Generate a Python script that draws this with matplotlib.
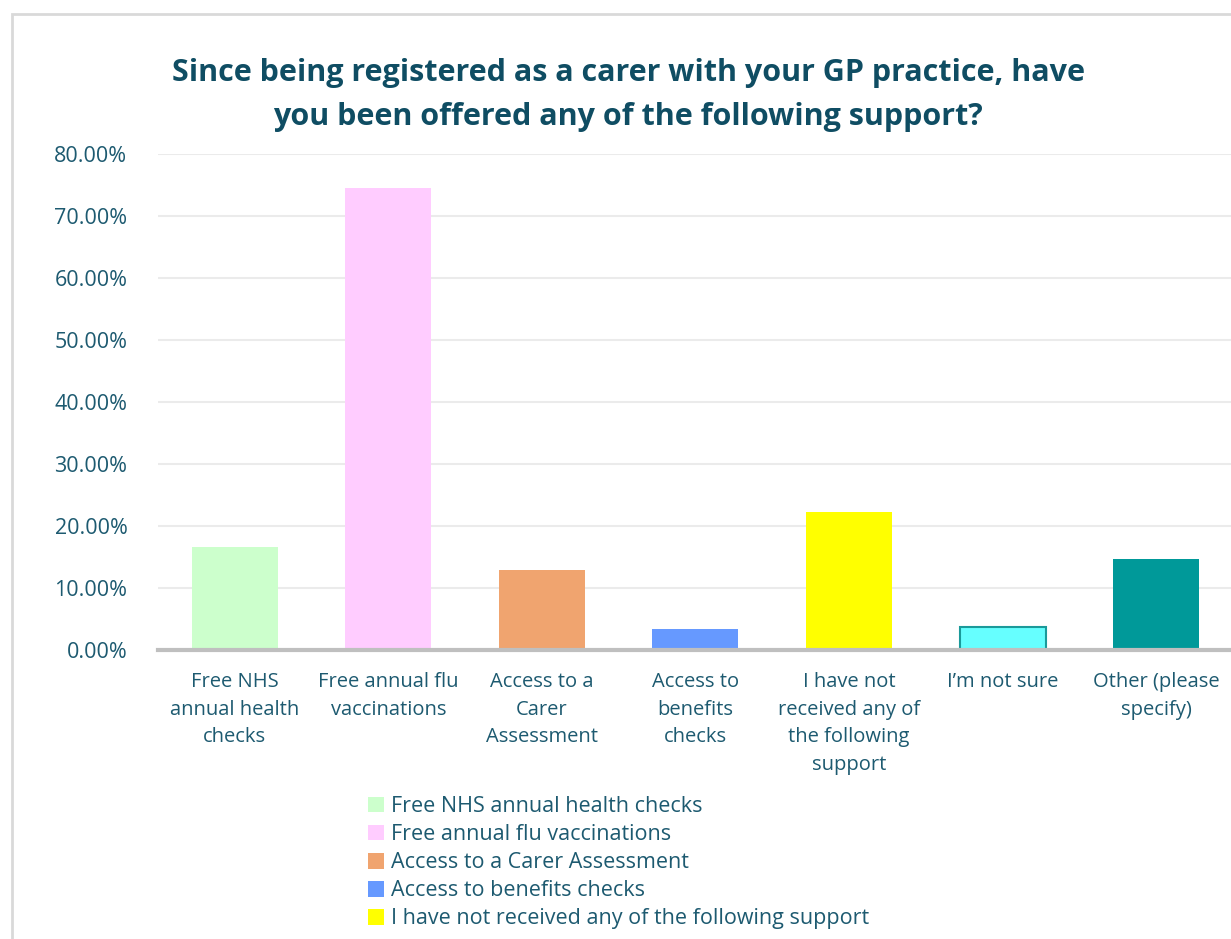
import numpy as np
import matplotlib.pyplot as plt
from matplotlib.patches import Rectangle
from matplotlib.ticker import FuncFormatter

plt.rcParams['font.family'] = ['Open Sans', 'DejaVu Sans']

# survey responses, percent of carers
categories = ["Free NHS annual health checks",
              "Free annual flu vaccinations",
              "Access to a Carer Assessment",
              "Access to benefits checks",
              "I have not received any of the following support",
              "I’m not sure",
              "Other (please specify)"]
tick_labels = ["Free NHS\nannual health\nchecks",
               "Free annual flu\nvaccinations",
               "Access to a\nCarer\nAssessment",
               "Access to\nbenefits\nchecks",
               "I have not\nreceived any of\nthe following\nsupport",
               "I’m not sure",
               "Other (please\nspecify)"]
values = [16.6, 74.5, 12.9, 3.4, 22.3, 3.7, 14.7]
colors = ["#ccffcc", "#ffccff", "#f0a46f", "#6699ff", "#ffff00", "#66ffff", "#009999"]
edges = ["none", "none", "none", "none", "none", "#1a9a9a", "none"]

text_col = "#1d5a70"
title_col = "#0f4d63"

fig = plt.figure(figsize=(12.31, 9.39), dpi=100)
# outer chart frame
fig.patches.append(Rectangle((12/1231, -0.1), 1.2, 1 - 14/939 + 0.1,
                             transform=fig.transFigure, fill=False,
                             edgecolor="#d9d9d9", linewidth=2))

ax = fig.add_axes([158/1231, 1 - 650/939, 1075/1231, (650 - 154)/939])
x = np.arange(len(values))
bars = []
for i in x:
    b = ax.bar(i, values[i], width=0.56, color=colors[i],
               edgecolor=edges[i], linewidth=1.5 if edges[i] != "none" else 0,
               zorder=3)
    bars.append(b[0])

ax.set_xlim(-0.5, 6.5)
ax.set_ylim(0, 80)
ax.set_yticks(np.arange(0, 81, 10))
ax.yaxis.set_major_formatter(FuncFormatter(lambda v, p: f"{v:.2f}%"))
ax.set_xticks(x)
ax.set_xticklabels(tick_labels, linespacing=1.5)
ax.tick_params(axis='y', length=0, pad=22, labelsize=15.5, labelcolor=text_col)
ax.tick_params(axis='x', length=0, pad=16, labelsize=14.5, labelcolor=text_col)
ax.grid(axis='y', color="#ebebeb", linewidth=1.5, zorder=0)
for s in ['top', 'right', 'left']:
    ax.spines[s].set_visible(False)
ax.spines['bottom'].set_color("#bfbfbf")
ax.spines['bottom'].set_linewidth(3)
ax.spines['bottom'].set_zorder(4)

fig.text(628/1231, 1 - 95/939,
         "Since being registered as a carer with your GP practice, have\n"
         "you been offered any of the following support?",
         ha='center', va='center', fontsize=22, fontweight='bold',
         color=title_col, linespacing=1.58)

# only the first five legend rows fit inside the frame
fig.legend(handles=bars[:5], labels=categories[:5], loc='upper left',
           bbox_to_anchor=(368/1231, 1 - 796/939), frameon=False,
           fontsize=15.5, labelcolor=text_col, handlelength=0.75,
           handleheight=0.75, handletextpad=0.3, labelspacing=0.33,
           borderpad=0, borderaxespad=0)

fig.savefig("out.png", dpi=100)
